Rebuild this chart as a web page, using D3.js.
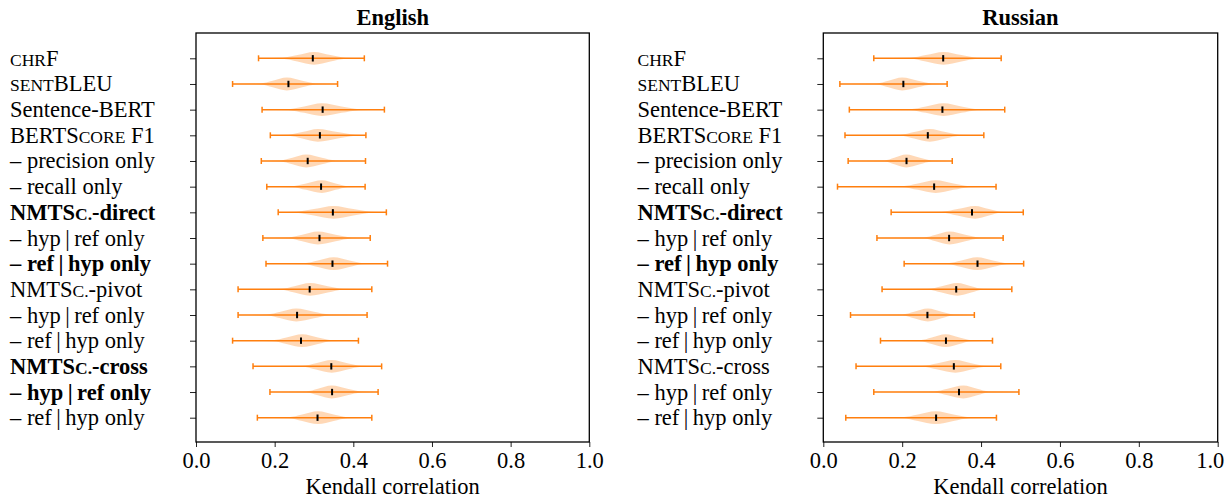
<!DOCTYPE html>
<html lang="en">
<head>
  <meta charset="UTF-8">
  <title>Kendall correlation violins</title>
  <script src="https://d3js.org/d3.v7.min.js"></script>
  <style>
    body { margin: 0; background: white; }
    svg { display: block; font-family: "Liberation Serif", "Times New Roman", serif; }
    .tick text { font-size: 22.5px; font-family: "Liberation Serif", serif; fill: #000; }
  </style>
</head>
<body>
  <svg width="1227" height="499"></svg>

  <script>
    // {..} marks small-caps segments
    const labels = [
      "{chr}F", "{sent}BLEU", "Sentence-BERT", "BERTS{core} F1",
      "– precision only", "– recall only", "NMTS{c.}-direct",
      "– hyp\u2009|\u2009ref only", "– ref\u2009|\u2009hyp only", "NMTS{c.}-pivot",
      "– hyp\u2009|\u2009ref only", "– ref\u2009|\u2009hyp only", "NMTS{c.}-cross",
      "– hyp\u2009|\u2009ref only", "– ref\u2009|\u2009hyp only"
    ];
    const xTicks = [0, 0.2, 0.4, 0.6, 0.8, 1.0];

    const enBold = [6, 8, 12, 13];
    const enMin = [0.159, 0.093, 0.168, 0.189, 0.166, 0.180, 0.209, 0.170, 0.178, 0.107, 0.107, 0.093, 0.145, 0.188, 0.156];
    const enMed = [0.297, 0.235, 0.322, 0.315, 0.284, 0.318, 0.348, 0.314, 0.347, 0.289, 0.257, 0.267, 0.344, 0.346, 0.309];
    const enMax = [0.428, 0.360, 0.479, 0.432, 0.431, 0.430, 0.484, 0.443, 0.487, 0.447, 0.435, 0.413, 0.472, 0.463, 0.447];
    // outline points of each violin body: [tail, shoulder, peak, shoulder, tail]
    const enBody = [
      [0.22, 0.258, 0.30, 0.342, 0.38], [0.163, 0.195, 0.231, 0.27, 0.305],
      [0.235, 0.275, 0.32, 0.37, 0.415], [0.235, 0.27, 0.31, 0.36, 0.405],
      [0.215, 0.245, 0.28, 0.32, 0.355], [0.245, 0.28, 0.32, 0.355, 0.385],
      [0.255, 0.30, 0.35, 0.40, 0.445], [0.235, 0.27, 0.31, 0.355, 0.395],
      [0.275, 0.31, 0.35, 0.39, 0.425], [0.215, 0.25, 0.29, 0.335, 0.375],
      [0.18, 0.215, 0.255, 0.30, 0.34], [0.195, 0.23, 0.27, 0.31, 0.345],
      [0.27, 0.305, 0.345, 0.385, 0.42], [0.28, 0.31, 0.345, 0.385, 0.42],
      [0.235, 0.27, 0.31, 0.35, 0.385]
    ];

    const ruBold = [6, 8];
    const ruMin = [0.128, 0.042, 0.066, 0.055, 0.063, 0.036, 0.172, 0.136, 0.205, 0.149, 0.069, 0.145, 0.083, 0.128, 0.057];
    const ruMed = [0.304, 0.203, 0.302, 0.265, 0.211, 0.281, 0.377, 0.319, 0.391, 0.337, 0.264, 0.311, 0.331, 0.344, 0.286];
    const ruMax = [0.451, 0.314, 0.460, 0.407, 0.327, 0.438, 0.507, 0.456, 0.508, 0.478, 0.383, 0.429, 0.450, 0.496, 0.439];
    const ruBody = [
      [0.22, 0.26, 0.305, 0.35, 0.39], [0.135, 0.165, 0.20, 0.24, 0.275],
      [0.22, 0.26, 0.305, 0.35, 0.39], [0.195, 0.23, 0.27, 0.31, 0.345],
      [0.155, 0.18, 0.21, 0.245, 0.275], [0.20, 0.24, 0.285, 0.33, 0.37],
      [0.30, 0.34, 0.385, 0.42, 0.45], [0.255, 0.285, 0.32, 0.36, 0.395],
      [0.315, 0.35, 0.39, 0.43, 0.465], [0.265, 0.30, 0.34, 0.375, 0.405],
      [0.20, 0.23, 0.265, 0.30, 0.33], [0.245, 0.275, 0.31, 0.345, 0.375],
      [0.25, 0.29, 0.335, 0.375, 0.41], [0.28, 0.315, 0.355, 0.39, 0.42],
      [0.20, 0.24, 0.285, 0.33, 0.37]
    ];
    // relative half-widths at [min, tail, shoulder, peak, shoulder, tail, max]
    const bodyWidths = [0, 0.08, 0.5, 1, 0.5, 0.08, 0];

    const svg = d3.select("svg");
    const orange = "#ff7f0e";
    const plotTop = 33, plotBottom = 442;

    function drawPanel(opt) {
      const x = d3.scaleLinear().domain([0, 1]).range([opt.left, opt.right]);
      const y = d3.scaleLinear().domain([1, 15]).range([58.3, 417.7]);
      const halfW = (y(1.25) - y(1));
      const g = svg.append("g");

      // y ticks
      g.append("g")
        .attr("transform", `translate(${opt.left},0)`)
        .call(d3.axisLeft(y).tickValues(d3.range(1, 16)).tickSize(6).tickFormat(""))
        .call(s => s.select(".domain").remove())
        .selectAll("line").attr("stroke", "#222").attr("stroke-width", 1);

      // x axis
      const xAxis = g.append("g")
        .attr("transform", `translate(0,${plotBottom})`)
        .call(d3.axisBottom(x).tickValues(xTicks).tickSize(5).tickPadding(5).tickFormat(d3.format(".1f")))
        .call(s => s.select(".domain").remove());
      xAxis.selectAll("line").attr("stroke", "#222").attr("stroke-width", 1);
      if (opt.lastTickDx) {
        xAxis.selectAll(".tick text").filter(d => d === 1).attr("dx", opt.lastTickDx);
      }

      const rows = d3.range(15).map(i => ({
        i, min: opt.min[i], med: opt.med[i], max: opt.max[i],
        pts: [opt.min[i], ...opt.body[i], opt.max[i]]
      }));

      const area = d3.area()
        .curve(d3.curveMonotoneX)
        .x(d => x(d[0]));

      g.selectAll("path.body").data(rows).join("path")
        .attr("class", "body")
        .attr("fill", orange).attr("fill-opacity", 0.3)
        .attr("d", r => {
          const yc = y(r.i + 1);
          return area.y0(d => yc - d[1] * halfW).y1(d => yc + d[1] * halfW)(r.pts.map((v, k) => [v, bodyWidths[k]]));
        });

      g.selectAll("line.bar").data(rows).join("line")
        .attr("class", "bar")
        .attr("x1", r => x(r.min)).attr("x2", r => x(r.max))
        .attr("y1", r => y(r.i + 1)).attr("y2", r => y(r.i + 1))
        .attr("stroke", orange).attr("stroke-width", 1.5);

      ["min", "max"].forEach(k => {
        g.selectAll("line.cap" + k).data(rows).join("line")
          .attr("class", "cap" + k)
          .attr("x1", r => x(r[k])).attr("x2", r => x(r[k]))
          .attr("y1", r => y(r.i + 1) - 3).attr("y2", r => y(r.i + 1) + 3)
          .attr("stroke", orange).attr("stroke-width", 1.5);
      });

      g.selectAll("line.med").data(rows).join("line")
        .attr("class", "med")
        .attr("x1", r => x(r.med)).attr("x2", r => x(r.med))
        .attr("y1", r => y(r.i + 1) - 3.2).attr("y2", r => y(r.i + 1) + 3.2)
        .attr("stroke", "#000").attr("stroke-width", 2);

      // frame
      g.append("rect")
        .attr("x", opt.left).attr("y", plotTop)
        .attr("width", opt.right - opt.left).attr("height", plotBottom - plotTop)
        .attr("fill", "none").attr("stroke", "#000").attr("stroke-width", 1.3);

      // row labels
      labels.forEach((lab, i) => {
        const t = g.append("text")
          .attr("x", opt.labelX).attr("y", y(i + 1) + 7.5)
          .attr("font-size", 22.5)
          .attr("font-weight", opt.bold.includes(i) ? "bold" : "normal");
        lab.split(/(\{[^}]*\})/).filter(s => s.length).forEach(seg => {
          if (seg[0] === "{") {
            t.append("tspan").attr("font-size", 17.5).text(seg.slice(1, -1).toUpperCase());
          } else {
            t.append("tspan").text(seg);
          }
        });
      });

      g.append("text")
        .attr("x", (opt.left + opt.right) / 2).attr("y", 25)
        .attr("text-anchor", "middle").attr("font-size", 22.5).attr("font-weight", "bold")
        .text(opt.title);

      g.append("text")
        .attr("x", (opt.left + opt.right) / 2).attr("y", 494)
        .attr("text-anchor", "middle").attr("font-size", 22.5)
        .text("Kendall correlation");
    }

    drawPanel({ title: "English", left: 196, right: 589.3, labelX: 10,
      min: enMin, med: enMed, max: enMax, body: enBody, bold: enBold });
    drawPanel({ title: "Russian", left: 823.3, right: 1217.7, labelX: 637.5, lastTickDx: -8,
      min: ruMin, med: ruMed, max: ruMax, body: ruBody, bold: ruBold });
  </script>
</body>
</html>
